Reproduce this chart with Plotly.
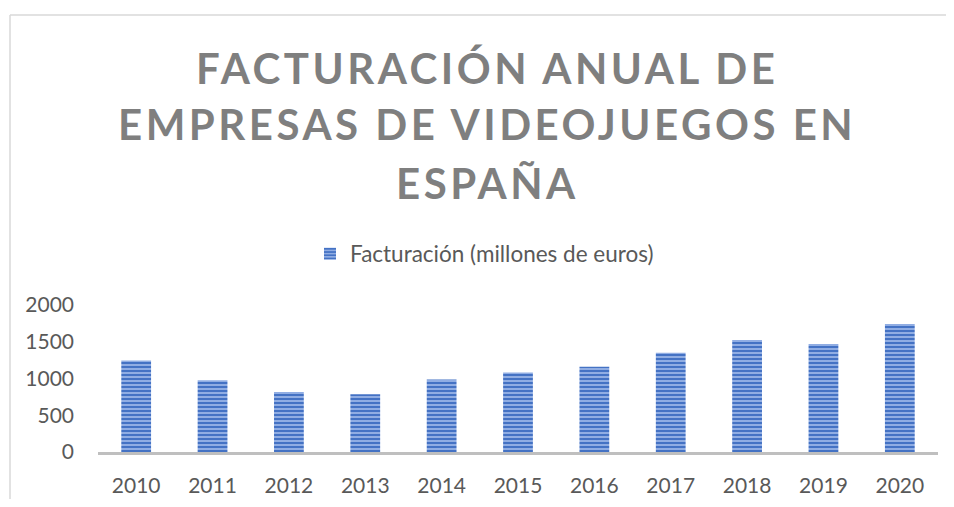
import plotly.graph_objects as go

years = ["2010", "2011", "2012", "2013", "2014", "2015", "2016", "2017", "2018", "2019", "2020"]
facturacion = [1245, 975, 815, 785, 985, 1080, 1160, 1350, 1525, 1470, 1740]
y_ticks = [0, 500, 1000, 1500, 2000]
series_name = "Facturación (millones de euros)"
title_lines = ["FACTURACIÓN ANUAL DE", "EMPRESAS DE VIDEOJUEGOS EN", "ESPAÑA"]

OFF = 8  # page body margin
W, H = 954 - 2 * OFF, 507 - 2 * OFF
# plot area in page pixels: x 98..938, y 305..452
ML = 98 - OFF
MR = W - (938 - OFF)
MT = 305 - OFF
MB = H - (452 - OFF)
pw = W - ML - MR
ph = H - MT - MB

def px_x(x):
    return (x - OFF - ML) / pw

def px_y(y):
    return (H - MB - (y - OFF)) / ph

fig = go.Figure()
fig.add_trace(go.Bar(
    x=years, y=facturacion, name=series_name,
    marker=dict(
        color="#98b3e6",
        line=dict(width=0),
        pattern=dict(shape="-", fgcolor="#4472c4", bgcolor="#a3bceb", size=4, solidity=0.6, fillmode="replace"),
    ),
    showlegend=True,
))

# title lines as annotations (cap centres measured in page pixels)
title_centres = [67, 124, 182]
for txt, yc in zip(title_lines, title_centres):
    fig.add_annotation(
        text='<b><span style="letter-spacing:3.5px">%s</span></b>' % txt,
        xref="paper", yref="paper", x=px_x(487), y=px_y(yc + 0.5),
        xanchor="center", yanchor="middle", showarrow=False,
        font=dict(family="Lato", size=42, color="#7f7f7f"),
    )

fig.update_layout(
    width=W, height=H,
    margin=dict(l=ML, r=MR, t=MT, b=MB, autoexpand=False),
    paper_bgcolor="white", plot_bgcolor="white",
    font=dict(family="Lato", color="#595959", size=21),
    bargap=0.61,
    showlegend=True,
    legend=dict(orientation="h", xref="container", yref="container",
                x=(310 - OFF) / W, xanchor="left", y=1 - (254 - OFF) / H, yanchor="middle",
                font=dict(family="Lato", size=22.5, color="#595959"), itemwidth=30,
                bgcolor="rgba(0,0,0,0)"),
    xaxis=dict(showgrid=False, showline=True, linecolor="#bfbfbf", linewidth=3, ticks="",
               ticklabelstandoff=13, tickfont=dict(size=21, color="#595959"), zeroline=False,
               automargin=False),
    yaxis=dict(range=[0, 2000], tickvals=y_ticks, showgrid=False, showline=False, zeroline=False,
               ticks="", ticklabelstandoff=23, tickfont=dict(size=21, color="#595959"),
               automargin=False),
)

# chart border (top and left edges visible in frame)
fig.add_shape(type="line", xref="paper", yref="paper", x0=px_x(10), x1=px_x(1000), y0=px_y(15), y1=px_y(15),
              line=dict(color="#d9d9d9", width=1.5))
fig.add_shape(type="line", xref="paper", yref="paper", x0=px_x(10), x1=px_x(10), y0=px_y(15), y1=px_y(560),
              line=dict(color="#d9d9d9", width=1.5))

fig.write_html("out.html")
